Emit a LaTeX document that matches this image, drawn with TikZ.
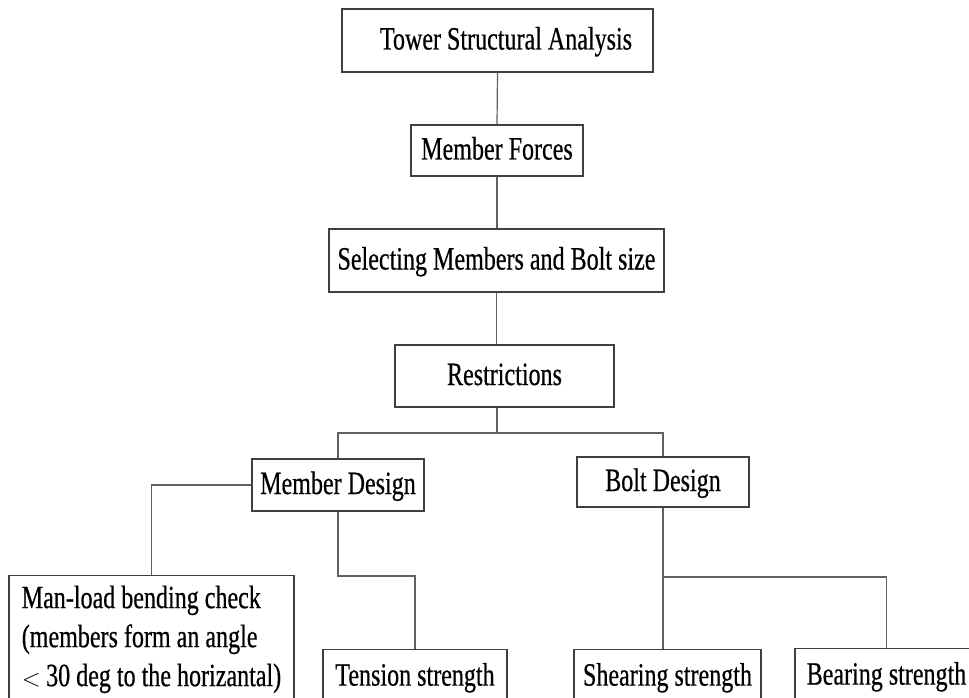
\documentclass[tikz,border=0pt]{standalone}
\usepackage{fontspec}
\setmainfont[FakeStretch=0.74,FakeBold=0.5]{Liberation Serif}
\begin{document}
\begin{tikzpicture}[x=1pt,y=-1pt,
  every node/.style={font=\fontsize{32.5}{39}\selectfont},
  box/.style={draw=black!75, line width=1.2pt, rectangle, inner sep=0pt,
    text height=24pt, text depth=6pt, anchor=center},
  lowbox/.style={draw=black!75, line width=1.2pt, rectangle, inner xsep=0pt,
    inner ysep=14pt, text height=22pt, text depth=8pt, anchor=north},
  conn/.style={draw=black!62, line width=1.2pt}]
\clip (0,0) rectangle (969,698);
\fill[white] (0,0) rectangle (969,698);
% boxes
\node[box, minimum width=311pt, minimum height=63pt] (tow) at (497.5,40.5) {\hspace{17pt}Tower Structural Analysis};
\node[box, minimum width=172pt, minimum height=51pt] (mf) at (497,150.5) {Member Forces};
\node[box, minimum width=335pt, minimum height=63pt] (sel) at (496.5,260.5) {Selecting Members and Bolt size};
\node[box, minimum width=219pt, minimum height=62pt] (res) at (504.5,376) {Restrictions};
\node[box, minimum width=172pt, minimum height=52pt] (md) at (338,485) {Member Design};
\node[box, minimum width=172pt, minimum height=50pt] (bd) at (663,482) {Bolt Design};
\node[draw=black!75, line width=1.2pt, rectangle, anchor=north, inner xsep=8pt, inner ysep=10pt,
  minimum width=285pt, align=left] (ml) at (151.5,575)
  {Man-load bending check\\(members form an angle\\${<}$\,30 deg to the horizantal)};
\node[lowbox, minimum width=184pt] (ten) at (415,649) {Tension strength};
\node[lowbox, minimum width=187pt] (sh) at (667.5,649) {Shearing strength};
\node[lowbox, minimum width=183pt] (br) at (886.5,648) {Bearing strength};
% junction coordinates
\coordinate (b1) at (497,433);
\coordinate (b2) at (0,576);
\coordinate (b3) at (0,577);
% connectors
\draw[conn] (tow.south) -- (mf.north);
\draw[conn] (mf.south) -- (mf.south |- sel.north);
\draw[conn] (sel.south) -- (sel.south |- res.north);
\draw[conn] (b1 |- res.south) -- (b1);
\draw[conn] (md.north) -- (md.north |- b1) -- (bd.north |- b1) -- (bd.north);
\draw[conn] (md.west) -| (ml.north);
\draw[conn] (md.south) -- (md.south |- b2) -| (ten.north);
\draw[conn] (bd.south) -- (bd.south |- sh.north);
\draw[conn] (bd.south |- b3) -| (br.north);
\end{tikzpicture}
\end{document}
